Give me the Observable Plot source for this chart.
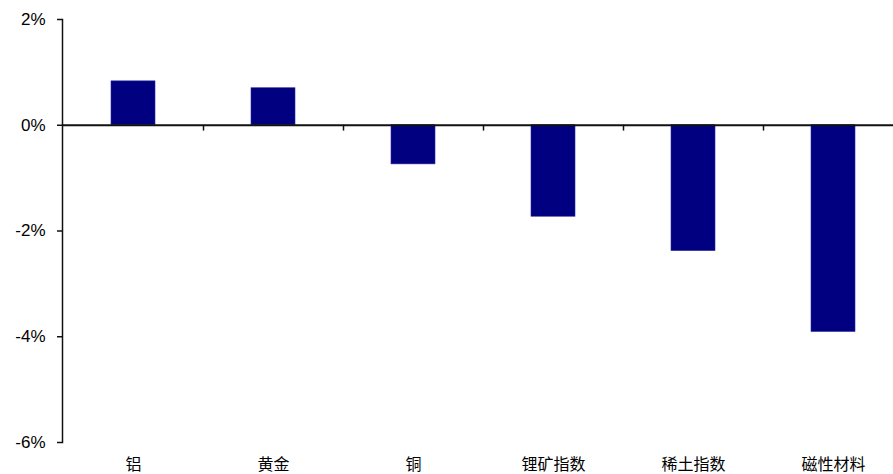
<!DOCTYPE html>
<html>
<head>
<meta charset="utf-8">
<script src="https://cdn.jsdelivr.net/npm/d3@7"></script>
<script src="https://cdn.jsdelivr.net/npm/@observablehq/plot@0.6"></script>
<style>
  html, body { margin: 0; padding: 0; background: #fff; }
</style>
</head>
<body>
<div id="chart"></div>
<script>
const categories = ["铝", "黄金", "铜", "锂矿指数", "稀土指数", "磁性材料"];
const values = [0.83, 0.70, -0.74, -1.73, -2.38, -3.91];
const yTicks = [2, 0, -2, -4, -6];

const data = categories.map((c, i) => ({category: c, value: values[i]}));

const chart = Plot.plot({
  width: 893,
  height: 474,
  marginLeft: 62,
  marginRight: 0,
  marginTop: 19,
  marginBottom: 32,
  style: {fontFamily: "Liberation Sans, Arial, sans-serif", background: "#fff"},
  x: {domain: categories, range: [62.5, 902.5], paddingInner: 0.686, paddingOuter: 0.343, label: null},
  y: {domain: [-6, 2], label: null},
  marks: [
    Plot.barY(data, {x: "category", y: "value", fill: "#000080", stroke: "#2a2a9a", strokeWidth: 0.6}),
    Plot.ruleY([0], {stroke: "#111", strokeWidth: 2}),
    Plot.ruleX(categories.slice(0, -1), {x: d => d, dx: 70, y1: 0, y2: -0.11, stroke: "#111", strokeWidth: 1.5}),
    Plot.frame({anchor: "left", stroke: "#111", strokeWidth: 1.5}),
    Plot.axisY({ticks: yTicks, tickFormat: d => d + "%", tickSize: 5, tickPadding: 12, fontSize: 17, stroke: "#111", strokeWidth: 1.5, fill: "#000", label: null}),
    Plot.axisX({anchor: "bottom", tickSize: 0, tickPadding: 16, fontSize: 16, fontFamily: "Noto Sans CJK SC", fill: "#000", label: null})
  ]
});
document.getElementById("chart").appendChild(chart);
</script>
</body>
</html>
